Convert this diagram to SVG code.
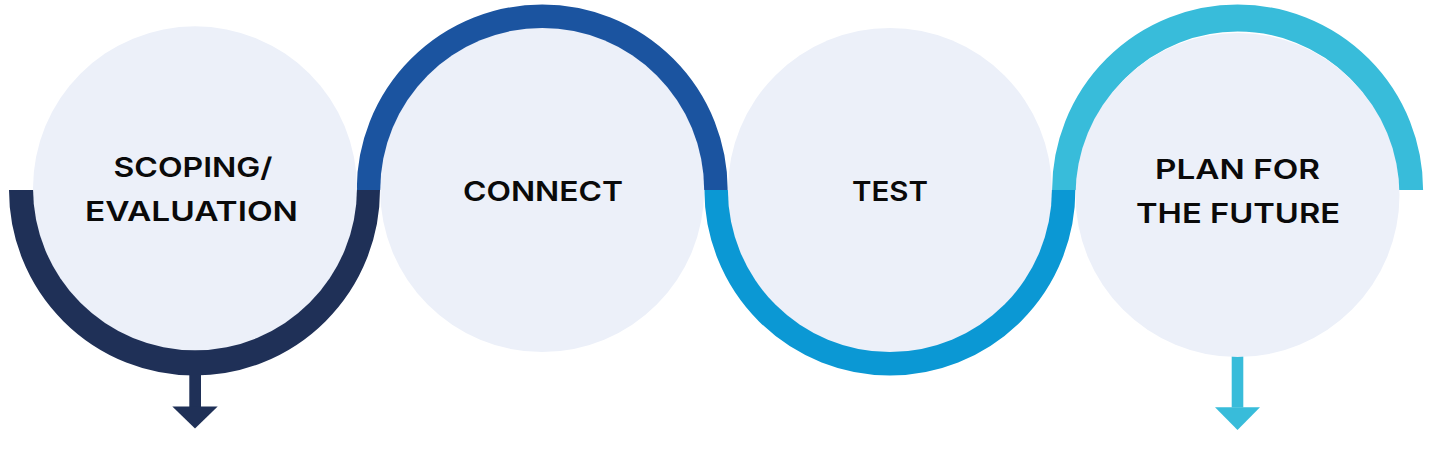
<svg xmlns="http://www.w3.org/2000/svg" width="1444" height="452" viewBox="0 0 1444 452">
<style>
.c{fill:#ECF0F9}
.r{fill:none;stroke-width:27}
.t{font-family:Inter,"Liberation Sans",sans-serif;font-weight:600;font-size:27px;fill:#0a0a0a;text-anchor:middle}
</style>
<rect width="1444" height="452" fill="#ffffff"/>
<g id="connectors">
<path class="r" stroke="#1F3057" d="M22.5 190 A172 172 0 0 0 366.5 190"/>
<path class="r" stroke="#1B54A0" d="M370.2 190 A172 172 0 0 1 714.2 190"/>
<path class="r" stroke="#0B98D4" d="M717.9 190 A172 172 0 0 0 1061.9 190"/>
<path class="r" stroke="#38BCDA" d="M1065.6 190 A172 172 0 0 1 1409.6 190"/>
<g id="arrow1" fill="#1F3057">
<rect x="189.3" y="370" width="11.7" height="37"/>
<polygon points="172.3,406.5 217.7,406.5 195,428.5"/>
</g>
<g id="arrow2" fill="#38BCDA">
<rect x="1231.7" y="350" width="11.6" height="57.5"/>
<polygon points="1215,407.3 1260,407.3 1237.5,430"/>
</g>
</g>
<g id="node-scoping">
<circle class="c" cx="195" cy="188.3" r="162"/>
<text class="t" x="193" y="177" textLength="159" lengthAdjust="spacingAndGlyphs">SCOPING/</text>
<text class="t" x="191.5" y="221" textLength="213" lengthAdjust="spacingAndGlyphs">EVALUATION</text>
</g>
<g id="node-connect">
<circle class="c" cx="542.2" cy="190" r="162"/>
<text class="t" x="543" y="201" textLength="160" lengthAdjust="spacingAndGlyphs">CONNECT</text>
</g>
<g id="node-test">
<circle class="c" cx="889.9" cy="190" r="162"/>
<text class="t" x="890" y="201" textLength="76" lengthAdjust="spacingAndGlyphs">TEST</text>
</g>
<g id="node-plan">
<circle class="c" cx="1237.5" cy="195" r="162"/>
<text class="t" x="1237.5" y="179" textLength="165" lengthAdjust="spacingAndGlyphs">PLAN FOR</text>
<text class="t" x="1238" y="223" textLength="204" lengthAdjust="spacingAndGlyphs">THE FUTURE</text>
</g>
</svg>
